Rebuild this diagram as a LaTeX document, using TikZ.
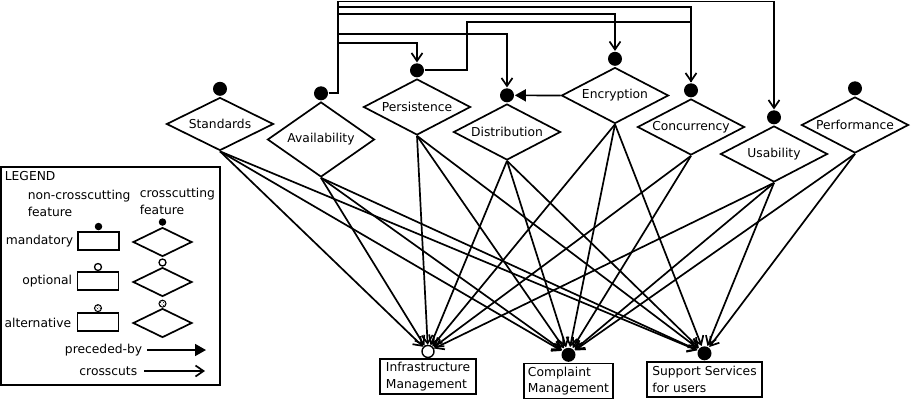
\documentclass[tikz,border=0pt]{standalone}
\usepackage{fontspec}
\setmainfont{DejaVu Sans}
\usetikzlibrary{positioning,shapes.geometric,arrows.meta,patterns}
\begin{document}
\begin{tikzpicture}[x=1pt,y=-1pt,line width=1.7pt,font=\fontsize{12.3}{16.5}\selectfont,
    feat/.style={diamond,draw,minimum width=107pt,minimum height=56pt,inner sep=0pt,aspect=1.9},
    ldiam/.style={diamond,draw,minimum width=59pt,minimum height=29pt,inner sep=0pt},
    mand/.style={circle,fill,inner sep=0pt,minimum size=14pt},
    opt/.style={circle,draw,fill=white,line width=1.4pt,inner sep=0pt,minimum size=12pt},
    lmand/.style={circle,fill,inner sep=0pt,minimum size=7.5pt},
    lopt/.style={circle,draw,line width=1.3pt,inner sep=0pt,minimum size=7pt},
    lalt/.style={circle,draw,line width=1pt,pattern=crosshatch dots,inner sep=0pt,minimum size=7pt},
    comp/.style={draw,align=left,inner sep=3pt,minimum height=35pt},
    lbox/.style={draw,minimum width=41pt,minimum height=18pt},
    lbl/.style={inner sep=0pt},
    cuts/.style={-{Straight Barb[length=8pt,width=11pt]}},
    prec/.style={-{Triangle[length=11pt,width=12pt]}}]
  \useasboundingbox (0,0) rectangle (913,400);

  % crosscutting features
  \node[feat,minimum height=53pt] (std) at (220,124) {Standards};
  \node[feat,minimum height=75pt] (avail) at (321,139.5) {Availability};
  \node[feat] (pers) at (417,107) {Persistence};
  \node[feat] (dist) at (507,132) {Distribution};
  \node[feat] (enc) at (615,95.5) {Encryption};
  \node[feat] (conc) at (691,127) {Concurrency};
  \node[feat] (usab) at (774,154) {Usability};
  \node[feat] (perf) at (855,125) {Performance};
  \foreach \f in {std,avail,pers,dist,enc,conc,usab,perf}
    \node[mand,above=0pt of \f] (\f m) {};

  % base features
  \node[comp,minimum width=96pt] (infra) at (428,376.5) {Infrastructure\\Management};
  \node[comp,minimum width=89pt] (compl) at (568.5,381) {Complaint\\Management};
  \node[comp,minimum width=115pt] (supp) at (704.5,379.5) {Support Services\\for users};
  \node[opt,above=0pt of infra] (infram) {};
  \node[mand,above=0pt of compl] (complm) {};
  \node[mand,above=0pt of supp] (suppm) {};

  \foreach \f/\t in {std/infram,std/complm,std/suppm,avail/infram,avail/complm,avail/suppm,
      pers/infram,pers/complm,pers/suppm,dist/infram,dist/complm,dist/suppm,
      enc/infram,enc/complm,enc/suppm,conc/infram,conc/complm,
      usab/infram,usab/complm,usab/suppm,perf/complm,perf/suppm}
    \draw[cuts] (\f.south) -- (\t);

  % availability crosscuts the others
  \draw[cuts] (availm.east) -| (338,43) -| (persm.north);
  \draw[cuts] (availm.east) -| (338,34) -| (distm.north);
  \draw[cuts] (availm.east) -| (338,14) -| (encm.north);
  \draw[cuts] (availm.east) -| (338,7) -| (concm.north);
  \draw[cuts] (availm.east) -| (338,1.5) -| (usabm.north);
  \draw (persm.east) -| (467,22) -| (concm.north);
  \draw[prec] (enc.west) -- (distm.east);

  % legend
  \draw (1,167) rectangle (220,385);
  \node[lbl,anchor=west] (leg) at (4,176) {LEGEND};
  \node[lbl,anchor=west,align=left] (ncf) at (27,203.5) {non-crosscutting\\feature};
  \node[lbl,anchor=west,align=left] (cf) at (139,201.5) {crosscutting\\feature};
  \node[lbl,anchor=east] (lm) at (74,241) {mandatory};
  \node[lbl,anchor=east] (lo) at (73,281) {optional};
  \node[lbl,anchor=east] (la) at (72,323) {alternative};
  \node[lbox] (mrect) at (98.5,241) {};
  \node[lbox] (orect) at (98,281) {};
  \node[lbox] (arect) at (98,322) {};
  \node[lmand,above=0pt of mrect] {};
  \node[lopt,above=0pt of orect] {};
  \node[lalt,above=0pt of arect] {};
  \node[ldiam] (mdiam) at (162.5,242) {};
  \node[ldiam] (odiam) at (162.5,282) {};
  \node[ldiam] (adiam) at (162.5,323) {};
  \node[lmand,above=0pt of mdiam] {};
  \node[lopt,above=0pt of odiam] {};
  \node[lalt,above=0pt of adiam] {};
  \node[lbl,anchor=east] (lp) at (143,350) {preceded-by};
  \node[lbl,anchor=east] (lc) at (138,371) {crosscuts};
  \coordinate (pe) at (206,350);
  \coordinate (ce) at (205,371);
  \draw[prec] ([xshift=4pt]lp.east) -- (pe);
  \draw[cuts] ([xshift=6pt]lc.east) -- (ce);
\end{tikzpicture}
\end{document}
